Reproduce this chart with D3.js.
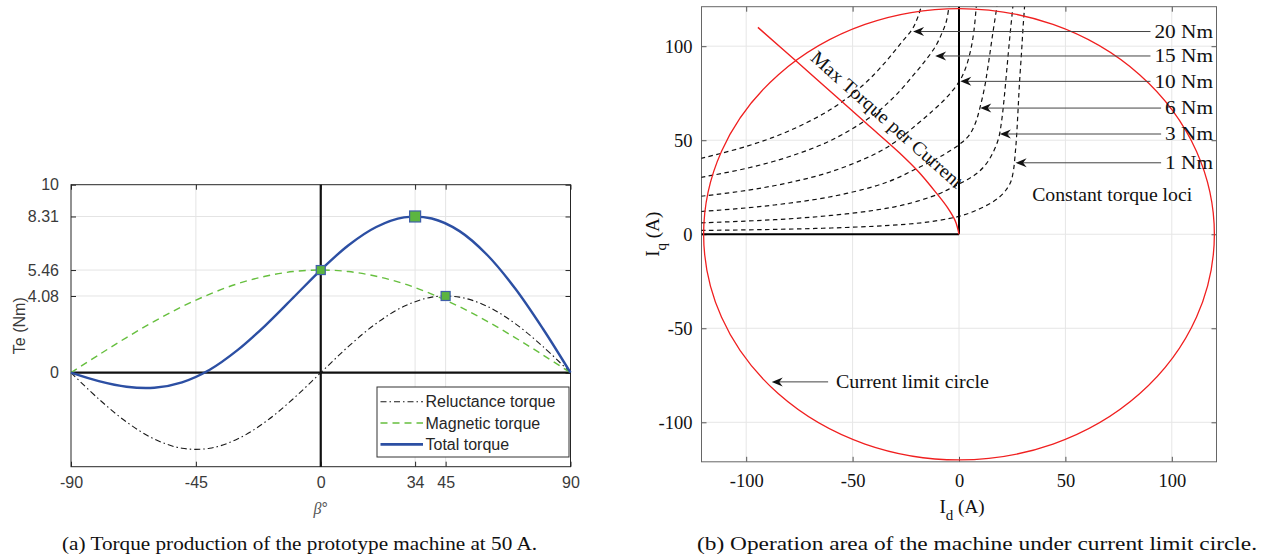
<!DOCTYPE html>
<html><head><meta charset="utf-8">
<script src="https://cdn.jsdelivr.net/npm/d3@7"></script>
<style>body{margin:0;background:#fff} svg{display:block}</style>
</head><body>
<svg id="chart" width="1273" height="558"></svg>
<script>
// ---------- Panel (a) data ----------
const beta = [-90,-80,-70,-60,-50,-40,-30,-20,-10,0,10,20,30,40,50,60,70,80,90];
const reluctanceTorque = [0,-1.40,-2.62,-3.53,-4.02,-4.02,-3.53,-2.62,-1.40,0,1.40,2.62,3.53,4.02,4.02,3.53,2.62,1.40,0];
const magneticTorque  = [0,0.95,1.87,2.73,3.51,4.18,4.73,5.13,5.38,5.46,5.38,5.13,4.73,4.18,3.51,2.73,1.87,0.95,0];
const totalTorque     = [0,-0.45,-0.75,-0.80,-0.51,0.16,1.20,2.51,3.98,5.46,6.78,7.75,8.26,8.20,7.53,6.26,4.49,2.35,0];
const markerBeta   = [0, 34, 45];
const markerTorque = [5.46, 8.31, 4.08];
const markerBig    = [false, true, false];
const xTicksA = [-90,-45,0,34,45,90];
const yTicksA = [0,4.08,5.46,8.31,10];
const yTickLabelsA = ["0","4.08","5.46","8.31","10"];
const legendNames = ["Reluctance torque","Magnetic torque","Total torque"];

// ---------- Panel (b) data ----------
const idTicks = [-100,-50,0,50,100];
const iqTicks = [-100,-50,0,50,100];
const currentLimit = 120;
const torqueLabels = ["1 Nm","3 Nm","6 Nm","10 Nm","15 Nm","20 Nm"];
const locus1Id  = [-125,-100,-80,-60,-40,-25,-14,-5,0,5,10,15,19,22,24.3,25.6,26.5,27.0,27.7,28.4,29.4,30.1,30.8,31.0];
const locus1Iq  = [1.97,2.33,2.74,3.33,4.24,5.3,6.6,8.3,9.5,11.3,13.7,16.6,19.8,23.4,27.8,34,44,51,65,80,97,110,121,125];
const locus3Id  = [-125,-100,-80,-60,-40,-25,-10,-3,3,8,12.5,16,18.6,20,21.2,22.5,23.8,25.3,25.6];
const locus3Iq  = [5.9,7.0,8.2,10.0,12.7,15.9,21.2,25,28.5,32,37,43.5,51,60,72,88,104,121,125];
const locus6Id  = [-125,-100,-80,-60,-40,-30,-20,-10,-4,1,5,8,10,12,13.6,15.9,17.8,18.3];
const locus6Iq  = [11.8,14.0,16.5,20.0,25.4,29.4,34.9,40.5,44.5,48.5,53,60,68,78,89,107,121,125];
const locus10Id = [-125,-100,-80,-60,-40,-30,-20,-12,-6,0,3,5.5,7,8.1,8.4];
const locus10Iq = [19.7,23.3,27.4,33.3,42.4,49.1,58.2,66,72.5,81,88,98,108,121,125];
const locus15Id = [-125,-100,-80,-60,-40,-30,-20,-15,-11,-8,-6,-4.7,-4.2];
const locus15Iq = [29.5,35.0,41.2,50.0,63.6,73.6,86.5,93.5,100,107,113,121,125];
const locus20Id = [-125,-100,-80,-60,-45,-35,-27,-22,-19.5,-17.8,-17.2];
const locus20Iq = [39.3,46.7,54.9,66.6,79.4,91,102,109,115,121,125];
const mtpaId = [-94.5,-76.4,-60,-43.6,-27.9,-18.5,-10.7,-5.3,-1.6,0];
const mtpaIq = [110,92,75.5,59,43.2,32.6,22,14,6.7,0];
const arrowTipId = [26.6,19.2,10.0,0.6,-11.2,-21.6];
const arrowIq    = [38.0,53.3,67.1,81.3,94.8,107.8];

// ================= drawing =================
const svg = d3.select("#chart");
const sansA = "'Liberation Sans', Arial, Helvetica, sans-serif";
const serif = "'Liberation Serif', 'Times New Roman', serif";
const hyphen = s => String(s).replace("\u2212", "-");

// ---------- Panel (a) ----------
const A = {l:71, r:570.5, t:184.7, b:466.7};
const xA = d3.scaleLinear().domain([-90,90]).range([A.l, A.r]);
const yA = d3.scaleLinear().domain([-5,10]).range([A.b, A.t]);
const gA = svg.append("g");

// grid
gA.append("g").selectAll("line").data(xTicksA.filter(v => v!==-90 && v!==90 && v!==0)).join("line")
  .attr("x1", d=>xA(d)).attr("x2", d=>xA(d)).attr("y1", A.t).attr("y2", A.b)
  .attr("stroke", "#e4e4e4").attr("stroke-width", 1);
gA.append("g").selectAll("line").data(yTicksA.filter(v => v!==0 && v!==10)).join("line")
  .attr("x1", A.l).attr("x2", A.r).attr("y1", d=>yA(d)).attr("y2", d=>yA(d))
  .attr("stroke", "#e4e4e4").attr("stroke-width", 1);

// axes
function styleAxis(g, labels){
  g.select(".domain").remove();
  g.selectAll(".tick line").attr("stroke", "#262626");
  g.selectAll(".tick text").attr("fill", "#3a3a3a").style("font-family", sansA).style("font-size", "16px");
  if(!labels) g.selectAll(".tick text").remove();
}
gA.append("g").attr("transform", `translate(0,${A.b})`)
  .call(d3.axisBottom(xA).tickValues(xTicksA).tickFormat(d => hyphen(d)).tickSizeInner(-5).tickSizeOuter(0).tickPadding(10))
  .call(g => styleAxis(g, true));
gA.append("g").attr("transform", `translate(0,${A.t})`)
  .call(d3.axisTop(xA).tickValues(xTicksA).tickSizeInner(-5).tickSizeOuter(0))
  .call(g => styleAxis(g, false));
gA.append("g").attr("transform", `translate(${A.l},0)`)
  .call(d3.axisLeft(yA).tickValues(yTicksA).tickFormat((d,i)=>yTickLabelsA[i]).tickSizeInner(-5).tickSizeOuter(0).tickPadding(12))
  .call(g => styleAxis(g, true));
gA.append("g").attr("transform", `translate(${A.r},0)`)
  .call(d3.axisRight(yA).tickValues(yTicksA).tickSizeInner(-5).tickSizeOuter(0))
  .call(g => styleAxis(g, false));

// box
gA.append("rect").attr("x", A.l).attr("y", A.t).attr("width", A.r-A.l).attr("height", A.b-A.t)
  .attr("fill", "none").attr("stroke", "#262626").attr("stroke-width", 1);

// zero lines
gA.append("line").attr("x1", A.l).attr("x2", A.r).attr("y1", yA(0)).attr("y2", yA(0))
  .attr("stroke", "#111").attr("stroke-width", 2.2);
gA.append("line").attr("x1", xA(0)).attr("x2", xA(0)).attr("y1", A.t).attr("y2", A.b)
  .attr("stroke", "#111").attr("stroke-width", 2.2);

const lineA = d3.line().curve(d3.curveCatmullRom.alpha(0.5));
const series = [
  {vals: reluctanceTorque, color:"#1a1a1a", w:1.1, dash:"6,3,1.5,3"},
  {vals: magneticTorque, color:"#66bf3e", w:1.4, dash:"7,5"},
  {vals: totalTorque, color:"#2c4fa3", w:2.4, dash:null}
];
series.forEach(s => {
  gA.append("path").attr("d", lineA(beta.map((b,i)=>[xA(b), yA(s.vals[i])])))
    .attr("fill", "none").attr("stroke", s.color).attr("stroke-width", s.w)
    .attr("stroke-dasharray", s.dash);
});

// markers
gA.append("g").selectAll("rect").data(markerBeta).join("rect")
  .attr("x", (d,i)=> xA(d) - (markerBig[i]?5.5:4.5))
  .attr("y", (d,i)=> yA(markerTorque[i]) - (markerBig[i]?5.5:4.5))
  .attr("width", (d,i)=> markerBig[i]?11:9).attr("height", (d,i)=> markerBig[i]?11:9)
  .attr("fill", "#5cb540").attr("stroke", "#3f5fa8").attr("stroke-width", 1.2);

// legend
const L = {x:377, y:387, w:192, h:70};
gA.append("rect").attr("x", L.x).attr("y", L.y).attr("width", L.w).attr("height", L.h)
  .attr("fill", "#fff").attr("stroke", "#333").attr("stroke-width", 1);
legendNames.forEach((n,i) => {
  const yy = 401.7 + i*21.3;
  gA.append("line").attr("x1", 380.5).attr("x2", 423).attr("y1", yy).attr("y2", yy)
    .attr("stroke", series[i].color).attr("stroke-width", series[i].w + (i===2?0.4:0))
    .attr("stroke-dasharray", series[i].dash);
  gA.append("text").attr("x", 425.5).attr("y", yy).attr("dy", "0.35em")
    .style("font-family", sansA).style("font-size", "16px").attr("fill", "#262626").text(n);
});

// axis labels
gA.append("text").attr("transform", `translate(25,${(A.t+A.b)/2}) rotate(-90)`)
  .attr("text-anchor", "middle").style("font-family", sansA).style("font-size", "16px").attr("fill", "#3a3a3a")
  .text("Te (Nm)");
const bl = gA.append("text").attr("x", xA(0)).attr("y", 514).attr("text-anchor", "middle")
  .style("font-family", sansA).style("font-size", "16px").attr("fill", "#555");
bl.append("tspan").style("font-family", serif).style("font-style", "italic").text("β");
bl.append("tspan").text("°");

// caption
svg.append("text").attr("x", 62).attr("y", 549.5).style("font-family", serif).style("font-size", "19px")
  .attr("fill", "#111").attr("textLength", 475).attr("lengthAdjust", "spacingAndGlyphs")
  .text("(a) Torque production of the prototype machine at 50 A.");

// ---------- Panel (b) ----------
const B = {l:701.5, r:1216.5, t:6.7, b:461.8};
const xB = d3.scaleLinear().domain([-121,121]).range([B.l, B.r]);
const yB = d3.scaleLinear().domain([-121,121]).range([B.b, B.t]);
const gB = svg.append("g");

gB.append("defs").append("clipPath").attr("id", "clipB").append("rect")
  .attr("x", B.l).attr("y", B.t).attr("width", B.r-B.l).attr("height", B.b-B.t);

// grid
gB.append("g").selectAll("line").data(idTicks).join("line")
  .attr("x1", d=>xB(d)).attr("x2", d=>xB(d)).attr("y1", B.t).attr("y2", B.b)
  .attr("stroke", "#e6e6e6");
gB.append("g").selectAll("line").data(iqTicks).join("line")
  .attr("x1", B.l).attr("x2", B.r).attr("y1", d=>yB(d)).attr("y2", d=>yB(d))
  .attr("stroke", "#e6e6e6");

function styleAxisB(g, labels){
  g.select(".domain").remove();
  g.selectAll(".tick line").attr("stroke", "#555");
  g.selectAll(".tick text").attr("fill", "#111").style("font-family", serif).style("font-size", "18.5px");
  if(!labels) g.selectAll(".tick text").remove();
}
gB.append("g").attr("transform", `translate(0,${B.b})`)
  .call(d3.axisBottom(xB).tickValues(idTicks).tickFormat(d => hyphen(d)).tickSizeInner(-5).tickSizeOuter(0).tickPadding(12))
  .call(g => styleAxisB(g, true));
gB.append("g").attr("transform", `translate(0,${B.t})`)
  .call(d3.axisTop(xB).tickValues(idTicks).tickSizeInner(-5).tickSizeOuter(0))
  .call(g => styleAxisB(g, false));
gB.append("g").attr("transform", `translate(${B.l},0)`)
  .call(d3.axisLeft(yB).tickValues(iqTicks).tickFormat(d => hyphen(d)).tickSizeInner(-5).tickSizeOuter(0).tickPadding(9))
  .call(g => styleAxisB(g, true));
gB.append("g").attr("transform", `translate(${B.r},0)`)
  .call(d3.axisRight(yB).tickValues(iqTicks).tickSizeInner(-5).tickSizeOuter(0))
  .call(g => styleAxisB(g, false));

gB.append("rect").attr("x", B.l).attr("y", B.t).attr("width", B.r-B.l).attr("height", B.b-B.t)
  .attr("fill", "none").attr("stroke", "#666").attr("stroke-width", 1);

const plotB = gB.append("g").attr("clip-path", "url(#clipB)");

// constant torque loci
const loci = [[locus1Id,locus1Iq],[locus3Id,locus3Iq],[locus6Id,locus6Iq],[locus10Id,locus10Iq],[locus15Id,locus15Iq],[locus20Id,locus20Iq]];
const lineB = d3.line().curve(d3.curveCatmullRom.alpha(0.5));
loci.forEach(([ids, iqs]) => {
  plotB.append("path").attr("d", lineB(ids.map((v,i)=>[xB(v), yB(iqs[i])])))
    .attr("fill", "none").attr("stroke", "#111").attr("stroke-width", 1.2).attr("stroke-dasharray", "4.5,3.5");
});

// black quadrant lines
plotB.append("line").attr("x1", xB(-121)).attr("x2", xB(0)).attr("y1", yB(0)).attr("y2", yB(0))
  .attr("stroke", "#000").attr("stroke-width", 2);
plotB.append("line").attr("x1", xB(0)).attr("x2", xB(0)).attr("y1", yB(0)).attr("y2", yB(121))
  .attr("stroke", "#000").attr("stroke-width", 2);

// current limit circle
plotB.append("ellipse").attr("cx", xB(0)).attr("cy", yB(0))
  .attr("rx", xB(currentLimit)-xB(0)).attr("ry", yB(0)-yB(currentLimit))
  .attr("fill", "none").attr("stroke", "#f02020").attr("stroke-width", 1.3);

// MTPA
plotB.append("path").attr("d", lineB(mtpaId.map((v,i)=>[xB(v), yB(mtpaIq[i])])))
  .attr("fill", "none").attr("stroke", "#f02020").attr("stroke-width", 1.4);

// MTPA label
const p1 = [xB(mtpaId[0]), yB(mtpaIq[0])], p2 = [xB(mtpaId[3]), yB(mtpaIq[3])];
const ang = Math.atan2(p2[1]-p1[1], p2[0]-p1[0]) * 180/Math.PI;
gB.append("text").attr("transform", `translate(${xB(-70.3)},${yB(93)}) rotate(${ang})`)
  .style("font-family", serif).style("font-size", "19px").attr("fill", "#111")
  .attr("textLength", 196).attr("lengthAdjust", "spacingAndGlyphs")
  .text("Max Torque per Current");

// torque arrows + labels
function arrowHead(g, tx, ty){
  g.append("path").attr("d", `M${tx},${ty} L${tx+11},${ty-4.5} L${tx+7.5},${ty} L${tx+11},${ty+4.5} Z`)
    .attr("fill", "#111");
}
const labelEndX = xB(121) - 3.5;
torqueLabels.forEach((lab, i) => {
  const yy = yB(arrowIq[i]);
  const t = gB.append("text").attr("x", labelEndX).attr("y", yy).attr("dy", "0.33em").attr("text-anchor", "end")
    .style("font-family", serif).style("font-size", "19px").attr("fill", "#111").text(lab);
  const w = t.node().getComputedTextLength() * 1.12;
  t.attr("textLength", w).attr("lengthAdjust", "spacingAndGlyphs");
  const tail = labelEndX - w - 4;
  gB.append("line").attr("x1", xB(arrowTipId[i]) + 6).attr("x2", tail).attr("y1", yy).attr("y2", yy)
    .attr("stroke", "#444").attr("stroke-width", 1);
  arrowHead(gB, xB(arrowTipId[i]), yy);
});

gB.append("text").attr("x", xB(34.4)).attr("y", yB(17.7))
  .style("font-family", serif).style("font-size", "19px").attr("fill", "#111")
  .attr("textLength", 160).attr("lengthAdjust", "spacingAndGlyphs")
  .text("Constant torque loci");

// current limit circle label
const climY = -78.5;
gB.append("line").attr("x1", xB(-88) + 6).attr("x2", xB(-61.5)).attr("y1", yB(climY)).attr("y2", yB(climY))
  .attr("stroke", "#444").attr("stroke-width", 1);
arrowHead(gB, xB(-88), yB(climY));
gB.append("text").attr("x", xB(-57.8)).attr("y", yB(climY)).attr("dy", "0.33em")
  .style("font-family", serif).style("font-size", "19px").attr("fill", "#111")
  .attr("textLength", 153).attr("lengthAdjust", "spacingAndGlyphs")
  .text("Current limit circle");

// axis labels
const xl = gB.append("text").attr("x", 962).attr("y", 513).attr("text-anchor", "middle")
  .style("font-family", serif).style("font-size", "19px").attr("fill", "#111");
xl.append("tspan").text("I");
xl.append("tspan").attr("dy", 7).style("font-size", "15px").text("d");
xl.append("tspan").attr("dy", -7).text(" (A)");
const yl = gB.append("text").attr("transform", `translate(659,${(B.t+B.b)/2}) rotate(-90)`).attr("text-anchor", "middle")
  .style("font-family", serif).style("font-size", "19px").attr("fill", "#111");
yl.append("tspan").text("I");
yl.append("tspan").attr("dy", 7).style("font-size", "15px").text("q");
yl.append("tspan").attr("dy", -7).text(" (A)");

// caption
svg.append("text").attr("x", 697).attr("y", 549.5).style("font-family", serif).style("font-size", "19px")
  .attr("fill", "#111").attr("textLength", 560).attr("lengthAdjust", "spacingAndGlyphs")
  .text("(b) Operation area of the machine under current limit circle.");
</script>
</body></html>
